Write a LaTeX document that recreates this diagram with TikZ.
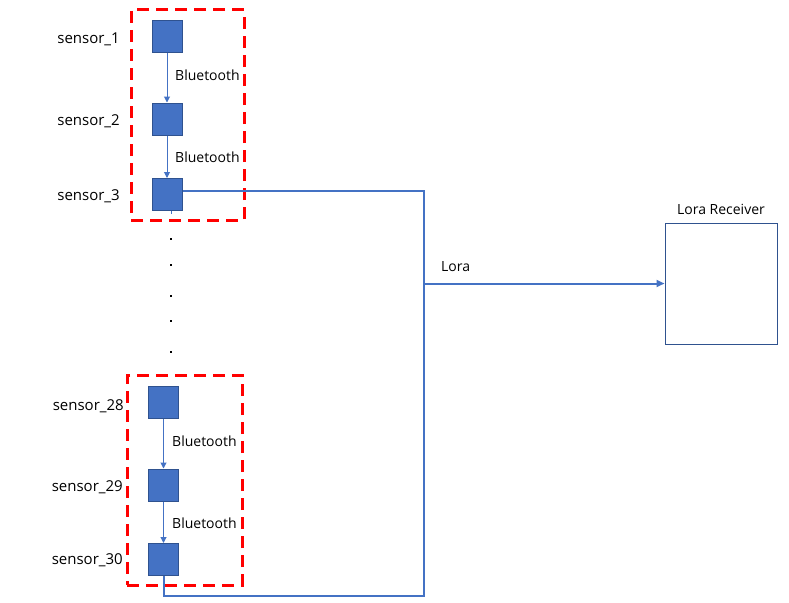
\documentclass[tikz,border=0pt]{standalone}
\usepackage{fontspec}
\setmainfont{Open Sans}
\usepackage{tikz}
\usetikzlibrary{arrows.meta, positioning}
\definecolor{NodeBlue}{RGB}{68,114,196}
\definecolor{NodeRule}{RGB}{47,82,143}
\definecolor{GroupRed}{RGB}{255,0,0}

\begin{document}
\begin{tikzpicture}[
  x=1pt, y=-1pt,
  every node/.style={font=\fontsize{14}{16}\selectfont},
  sensor/.style={draw=NodeRule, fill=NodeBlue, line width=1pt,
                 minimum width=30pt, minimum height=32pt, inner sep=0pt},
  tag/.style={inner sep=0pt},
  sensortag/.style={inner sep=0pt, anchor=base east, font=\fontsize{15}{17}\selectfont},
  group/.style={draw=GroupRed, line width=3pt, dash pattern=on 12pt off 7pt,
                minimum width=113pt, minimum height=210pt, inner sep=0pt},
  receiver/.style={draw=NodeRule, line width=1pt,
                   minimum width=112pt, minimum height=121pt, inner sep=0pt},
  btarrow/.style={-{Triangle[length=6pt,width=6pt]}, draw=NodeBlue, line width=1pt},
  link/.style={draw=NodeBlue, line width=2pt}
]
\useasboundingbox (0,0) rectangle (789,602);

% first group of sensors
\node[group] (grp1) at (187.5,115) {};
\node[sensor] (s1) at (167,37) {};
\node[sensor] (s2) at (167,119) {};
\node[sensor] (s3) at (167,194.5) {};
\node[sensortag] (l1) at (120,44) {sensor\_1};
\node[sensortag] (l2) at (120,125) {sensor\_2};
\node[sensortag] (l3) at (120,200) {sensor\_3};
\draw[btarrow] (s1) -- (s2);
\draw[btarrow] (s2) -- (s3);
\node[tag, anchor=base west] (bt1) at (175,80) {Bluetooth};
\node[tag, anchor=base west] (bt2) at (175,162) {Bluetooth};
\draw[draw=NodeBlue, line width=1pt] ([xshift=4pt]s3.south) -- ++(0,3);

% dots between the groups
\foreach \y in {238,264,295,320,351}
  \fill (169.5,\y) rectangle ++(2,2);

% second group of sensors
\node[group, minimum width=115pt] (grp2) at (184.5,480) {};
\node[sensor] (s28) at (163.5,402.5) {};
\node[sensor] (s29) at (163.5,485) {};
\node[sensor] (s30) at (163.5,559.5) {};
\node[sensortag] (l28) at (124,410) {sensor\_28};
\node[sensortag] (l29) at (123,491) {sensor\_29};
\node[sensortag] (l30) at (123,564) {sensor\_30};
\draw[btarrow] (s28) -- (s29);
\draw[btarrow] (s29) -- (s30);
\node[tag, anchor=base west] (bt28) at (172,446) {Bluetooth};
\node[tag, anchor=base west] (bt29) at (172,528) {Bluetooth};

% lora link
\node[receiver] (rx) at (721,283.5) {};
\node[tag, anchor=base] (rxl) at (721,214) {Lora Receiver};
\coordinate (bus) at (424,283.5);
\coordinate (turn) at (424,596);
\draw[link] ([yshift=3.5pt]s3.east) -| (turn) -| (s30.south);
\draw[link, -{Triangle[length=8pt,width=7pt]}] (bus) -- (rx);
\node[tag, anchor=base west] (lora) at (441,271) {Lora};
\end{tikzpicture}
\end{document}
